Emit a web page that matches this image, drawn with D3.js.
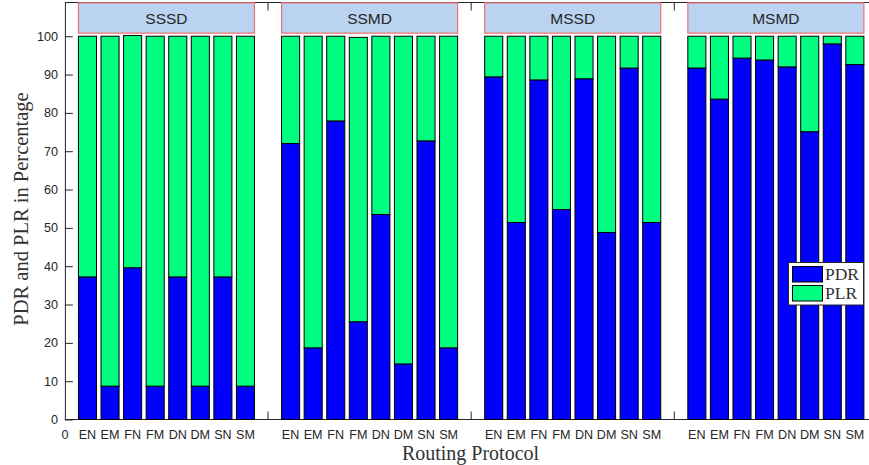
<!DOCTYPE html>
<html>
<head>
<meta charset="utf-8">
<script src="https://cdn.jsdelivr.net/npm/d3@7/dist/d3.min.js"></script>
<style>
  html, body { margin: 0; padding: 0; background: #fff; }
  svg { display: block; }
</style>
</head>
<body>
<svg id="chart" width="869" height="465"></svg>
<script>
// ---- data ----
const groups = ["SSSD", "SSMD", "MSSD", "MSMD"];
const protocols = ["EN", "EM", "FN", "FM", "DN", "DM", "SN", "SM"];
const seriesNames = ["PDR", "PLR"];
const pdrSSSD = [37.2, 8.7, 39.6, 8.7, 37.2, 8.7, 37.2, 8.7];
const plrSSSD = [62.8, 91.3, 60.6, 91.3, 62.8, 91.3, 62.8, 91.3];
const pdrSSMD = [72.0, 18.7, 77.9, 25.5, 53.5, 14.5, 72.7, 18.7];
const plrSSMD = [28.0, 81.3, 22.1, 74.2, 46.5, 85.5, 27.3, 81.3];
const pdrMSSD = [89.4, 51.4, 88.6, 54.8, 88.9, 48.8, 91.7, 51.4];
const plrMSSD = [10.6, 48.6, 11.4, 45.2, 11.1, 51.2, 8.3, 48.6];
const pdrMSMD = [91.7, 83.6, 94.3, 93.8, 92.0, 75.1, 98.0, 92.6];
const plrMSMD = [8.3, 16.4, 5.7, 6.2, 8.0, 24.9, 2.0, 7.4];
const yTicks = [0, 10, 20, 30, 40, 50, 60, 70, 80, 90, 100];

const pdrByGroup = [pdrSSSD, pdrSSMD, pdrMSSD, pdrMSMD];
const plrByGroup = [plrSSSD, plrSSMD, plrMSSD, plrMSMD];

(function () {
// ---- layout ----
const svg = d3.select("#chart");
const mLeft = 64.9, mBottom = 419.5, mTop = 2.5;
const x = d3.scaleLinear().domain([0, 36]).range([mLeft, mLeft + 36 * 22.57]);
const y = d3.scaleLinear().domain([0, 108.8]).range([mBottom, mTop]);
const slot = 9; // 8 bars + 1 gap per group
const barW = x(0.8) - x(0);

const rows = [];
groups.forEach((g, gi) => {
  protocols.forEach((p, pi) => {
    rows.push({ group: g, protocol: p, pos: gi * slot + pi + 1,
      PDR: pdrByGroup[gi][pi], PLR: plrByGroup[gi][pi] });
  });
});
const stacked = d3.stack().keys(seriesNames)(rows);
const colors = d3.scaleOrdinal().domain(seriesNames).range(["#0000ff", "#00ff80"]);

const fontSans = "'Liberation Sans', Arial, Helvetica, sans-serif";
const fontSerif = "'Liberation Serif', 'Times New Roman', serif";
const textCol = "#262626";

// axis lines (top + bottom)
svg.append("line").attr("x1", mLeft).attr("x2", 869).attr("y1", mBottom).attr("y2", mBottom)
  .attr("stroke", textCol).attr("stroke-width", 1);
svg.append("line").attr("x1", mLeft).attr("x2", 869).attr("y1", y(108.8)).attr("y2", y(108.8))
  .attr("stroke", textCol).attr("stroke-width", 1);

// bars
svg.append("g").selectAll("g").data(stacked).join("g")
  .attr("fill", d => colors(d.key))
  .selectAll("rect").data(d => d).join("rect")
  .attr("x", d => x(d.data.pos) - barW / 2)
  .attr("width", barW)
  .attr("y", d => y(d[1]))
  .attr("height", d => y(d[0]) - y(d[1]))
  .attr("stroke", "#000").attr("stroke-width", 1);

// y axis
const yAxis = d3.axisLeft(y).tickValues(yTicks).tickSizeInner(-8).tickSizeOuter(0).tickPadding(7);
const yg = svg.append("g").attr("transform", `translate(${mLeft},0)`).call(yAxis);
yg.select(".domain").attr("stroke", textCol).attr("d", `M0.5,${mBottom}V${y(108.8)}`);
yg.selectAll(".tick line").attr("stroke", textCol);
yg.selectAll(".tick text").attr("font-family", fontSans).attr("font-size", "12.6px").attr("fill", textCol)
  .attr("x", -7);

// x tick marks at gaps (bottom & top)
const gapTicks = groups.slice(1).map((g, i) => (i + 1) * slot);
svg.append("g").selectAll("line").data(gapTicks).join("line")
  .attr("x1", d => x(d)).attr("x2", d => x(d))
  .attr("y1", mBottom).attr("y2", mBottom - 8).attr("stroke", textCol);
svg.append("g").selectAll("line").data(gapTicks).join("line")
  .attr("x1", d => x(d)).attr("x2", d => x(d))
  .attr("y1", y(108.8)).attr("y2", y(108.8) + 8).attr("stroke", textCol);

// x tick labels
const xg = svg.append("g").attr("font-family", fontSans).attr("font-size", "12.6px").attr("fill", textCol);
xg.selectAll("text.pl").data(rows).join("text").attr("class", "pl")
  .attr("x", d => x(d.pos)).attr("y", 438.5).attr("text-anchor", "middle").text(d => d.protocol);
xg.append("text").attr("x", x(0)).attr("y", 438.5).attr("text-anchor", "middle").text("0");

// group header boxes
const hdr = svg.append("g");
groups.forEach((g, gi) => {
  const x0 = x(gi * slot + 0.6), x1 = x(gi * slot + 8.4);
  const y0 = y(108.7), y1 = y(100.8);
  hdr.append("rect").attr("x", x0).attr("y", y0).attr("width", x1 - x0).attr("height", y1 - y0)
    .attr("fill", "#b9d3f1").attr("stroke", "#f07070").attr("stroke-width", 1.2);
  hdr.append("text").attr("x", (x0 + x1) / 2).attr("y", (y0 + y1) / 2 + 5.5)
    .attr("text-anchor", "middle").attr("font-family", fontSans).attr("font-size", "15.5px")
    .attr("fill", textCol).text(g);
});

// axis titles
svg.append("text").attr("x", 470.5).attr("y", 459.5).attr("text-anchor", "middle")
  .attr("font-family", fontSerif).attr("font-size", "20px").attr("fill", "#333")
  .text("Routing Protocol");
svg.append("text").attr("transform", "translate(28,209) rotate(-90)").attr("text-anchor", "middle")
  .attr("font-family", fontSerif).attr("font-size", "20.5px").attr("fill", "#333")
  .text("PDR and PLR in Percentage");

// legend
const lg = svg.append("g");
lg.append("rect").attr("x", 788.5).attr("y", 262.5).attr("width", 75).attr("height", 42.5)
  .attr("fill", "#fff").attr("stroke", textCol).attr("stroke-width", 1);
seriesNames.forEach((s, i) => {
  const yy = 266.5 + i * 19;
  lg.append("rect").attr("x", 792.5).attr("y", yy).attr("width", 30).attr("height", 15.5)
    .attr("fill", colors(s)).attr("stroke", "#000").attr("stroke-width", 1);
  lg.append("text").attr("x", 825).attr("y", yy + 13).attr("font-family", fontSerif)
    .attr("font-size", "17.5px").attr("fill", "#333").text(s);
});
})();
</script>
</body>
</html>
